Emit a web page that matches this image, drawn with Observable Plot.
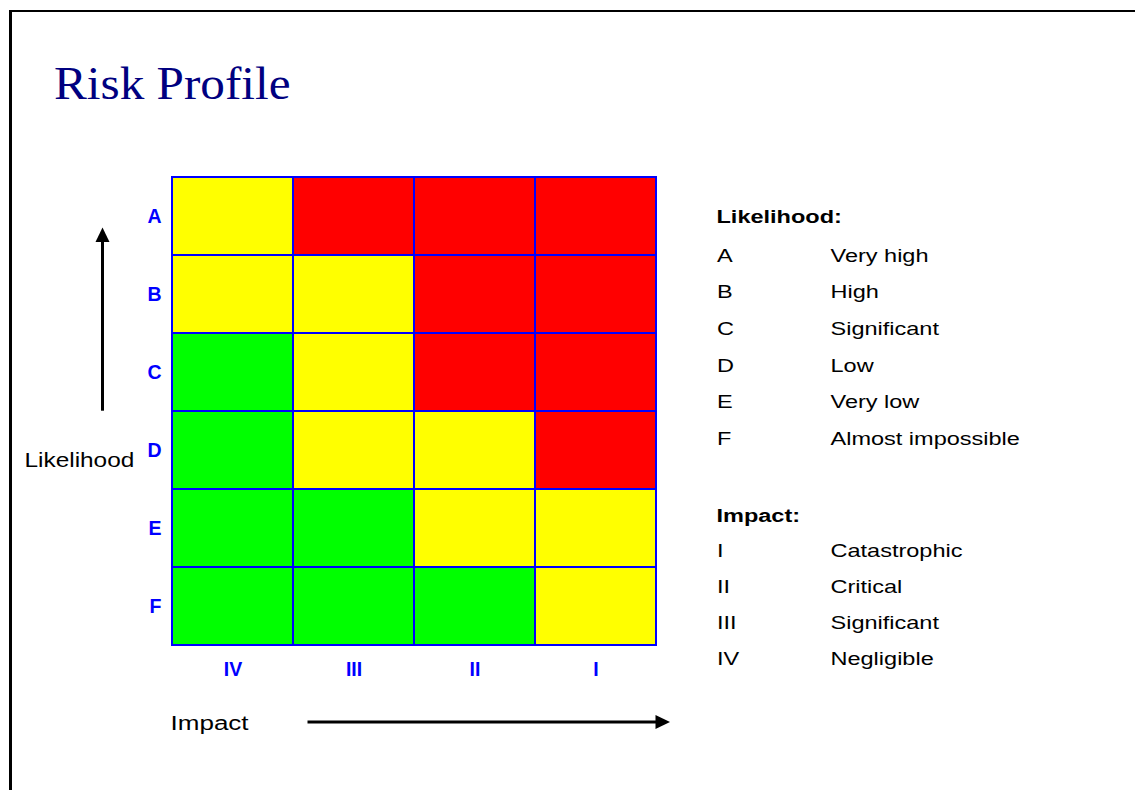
<!DOCTYPE html>
<html>
<head>
<meta charset="utf-8">
<script src="https://cdn.jsdelivr.net/npm/d3@7"></script>
<script src="https://cdn.jsdelivr.net/npm/@observablehq/plot@0.6"></script>
<style>
  html, body { margin: 0; padding: 0; background: #ffffff; }
  body { width: 1135px; height: 790px; position: relative; overflow: hidden; }
  #frame { position: absolute; left: 9px; top: 10px; width: 1300px; height: 900px;
           border-left: 3px solid #000; border-top: 2.5px solid #000; box-sizing: border-box; }
  #chart { position: absolute; left: 0; top: 0; }
  #chart svg text { font-family: 'Liberation Sans', Arial, sans-serif; font-size: 19.5px; font-weight: bold; fill: #0000ff; }
  #overlay { position: absolute; left: 0; top: 0; pointer-events: none; }
</style>
</head>
<body>
<div id="frame"></div>
<div id="chart"></div>
<svg id="overlay" width="1135" height="790" xmlns="http://www.w3.org/2000/svg"></svg>
<script>
// ---- Data ----
const likelihood = ["A", "B", "C", "D", "E", "F"];
const impact = ["IV", "III", "II", "I"];
// risk level per likelihood row (A..F), per impact column (IV, III, II, I)
const riskRowA = ["Medium", "High", "High", "High"];
const riskRowB = ["Medium", "Medium", "High", "High"];
const riskRowC = ["Low", "Medium", "High", "High"];
const riskRowD = ["Low", "Medium", "Medium", "High"];
const riskRowE = ["Low", "Low", "Medium", "Medium"];
const riskRowF = ["Low", "Low", "Low", "Medium"];
const riskLevels = ["Low", "Medium", "High"];
const riskColors = ["#00ff00", "#ffff00", "#ff0000"];
const likelihoodNames = ["Very high", "High", "Significant", "Low", "Very low", "Almost impossible"];
const impactCodes = ["I", "II", "III", "IV"];
const impactNames = ["Catastrophic", "Critical", "Significant", "Negligible"];

const rows = [riskRowA, riskRowB, riskRowC, riskRowD, riskRowE, riskRowF];
const cells = [];
likelihood.forEach((l, i) => impact.forEach((c, j) => cells.push({likelihood: l, impact: c, level: rows[i][j]})));

// ---- Chart ----
const W = 1135, H = 790;
const chart = Plot.plot({
  width: W,
  height: H,
  marginLeft: 171,
  marginRight: 478,
  marginTop: 176,
  marginBottom: 145,
  style: {fontFamily: "'Liberation Sans', Arial, sans-serif", fontSize: "19.5px", fontWeight: "bold", color: "#0000ff", background: "transparent", overflow: "visible"},
  x: {type: "band", domain: impact, padding: 0, tickSize: 0, tickPadding: 17, label: null, axis: "bottom"},
  y: {type: "band", domain: likelihood, padding: 0, tickSize: 0, tickPadding: 10, label: null, axis: "left"},
  color: {type: "ordinal", domain: riskLevels, range: riskColors},
  marks: [
    Plot.cell(cells, {x: "impact", y: "likelihood", fill: "level", stroke: "#0000ff", strokeWidth: 2, inset: 0})
  ]
});
document.getElementById("chart").appendChild(chart);

// ---- Overlay: title, axis titles, arrows, legend ----
const ov = d3.select("#overlay");
const sans = "'Liberation Sans', Arial, sans-serif";

ov.append("text")
  .attr("transform", "translate(54,99) scale(1.07,1)")
  .attr("font-family", "'Liberation Serif', 'Times New Roman', serif")
  .attr("font-size", 46)
  .attr("fill", "#000080")
  .text("Risk Profile");

ov.append("text")
  .attr("transform", "translate(24.5,467.3) scale(1.19,1)")
  .attr("font-family", sans).attr("font-size", 20.5).attr("fill", "#000")
  .text("Likelihood");

ov.append("text")
  .attr("transform", "translate(170.5,730) scale(1.24,1)")
  .attr("font-family", sans).attr("font-size", 21).attr("fill", "#000")
  .text("Impact");

// arrows
ov.append("line").attr("x1", 102.5).attr("x2", 102.5).attr("y1", 410.7).attr("y2", 240)
  .attr("stroke", "#000").attr("stroke-width", 3);
ov.append("polygon").attr("points", "102.5,227.5 95.5,242 109.5,242").attr("fill", "#000");
ov.append("line").attr("x1", 307.5).attr("x2", 657).attr("y1", 722).attr("y2", 722)
  .attr("stroke", "#000").attr("stroke-width", 3);
ov.append("polygon").attr("points", "670,722 655.5,715 655.5,729").attr("fill", "#000");

// legend
const legFont = 18.67, legScale = 1.26;
function legText(x, y, str, bold) {
  ov.append("text")
    .attr("transform", `translate(${x},${y}) scale(${legScale},1)`)
    .attr("font-family", sans).attr("font-size", legFont)
    .attr("font-weight", bold ? "bold" : "normal")
    .attr("fill", "#000")
    .text(str);
}
legText(716.5, 222.7, "Likelihood:", true);
likelihood.forEach((l, i) => {
  legText(717, 261.7 + i * 36.6, l, false);
  legText(830.5, 261.7 + i * 36.6, likelihoodNames[i], false);
});
legText(716.5, 521.7, "Impact:", true);
impactCodes.forEach((c, i) => {
  legText(717, 556.7 + i * 36, c, false);
  legText(830.5, 556.7 + i * 36, impactNames[i], false);
});
</script>
</body>
</html>
